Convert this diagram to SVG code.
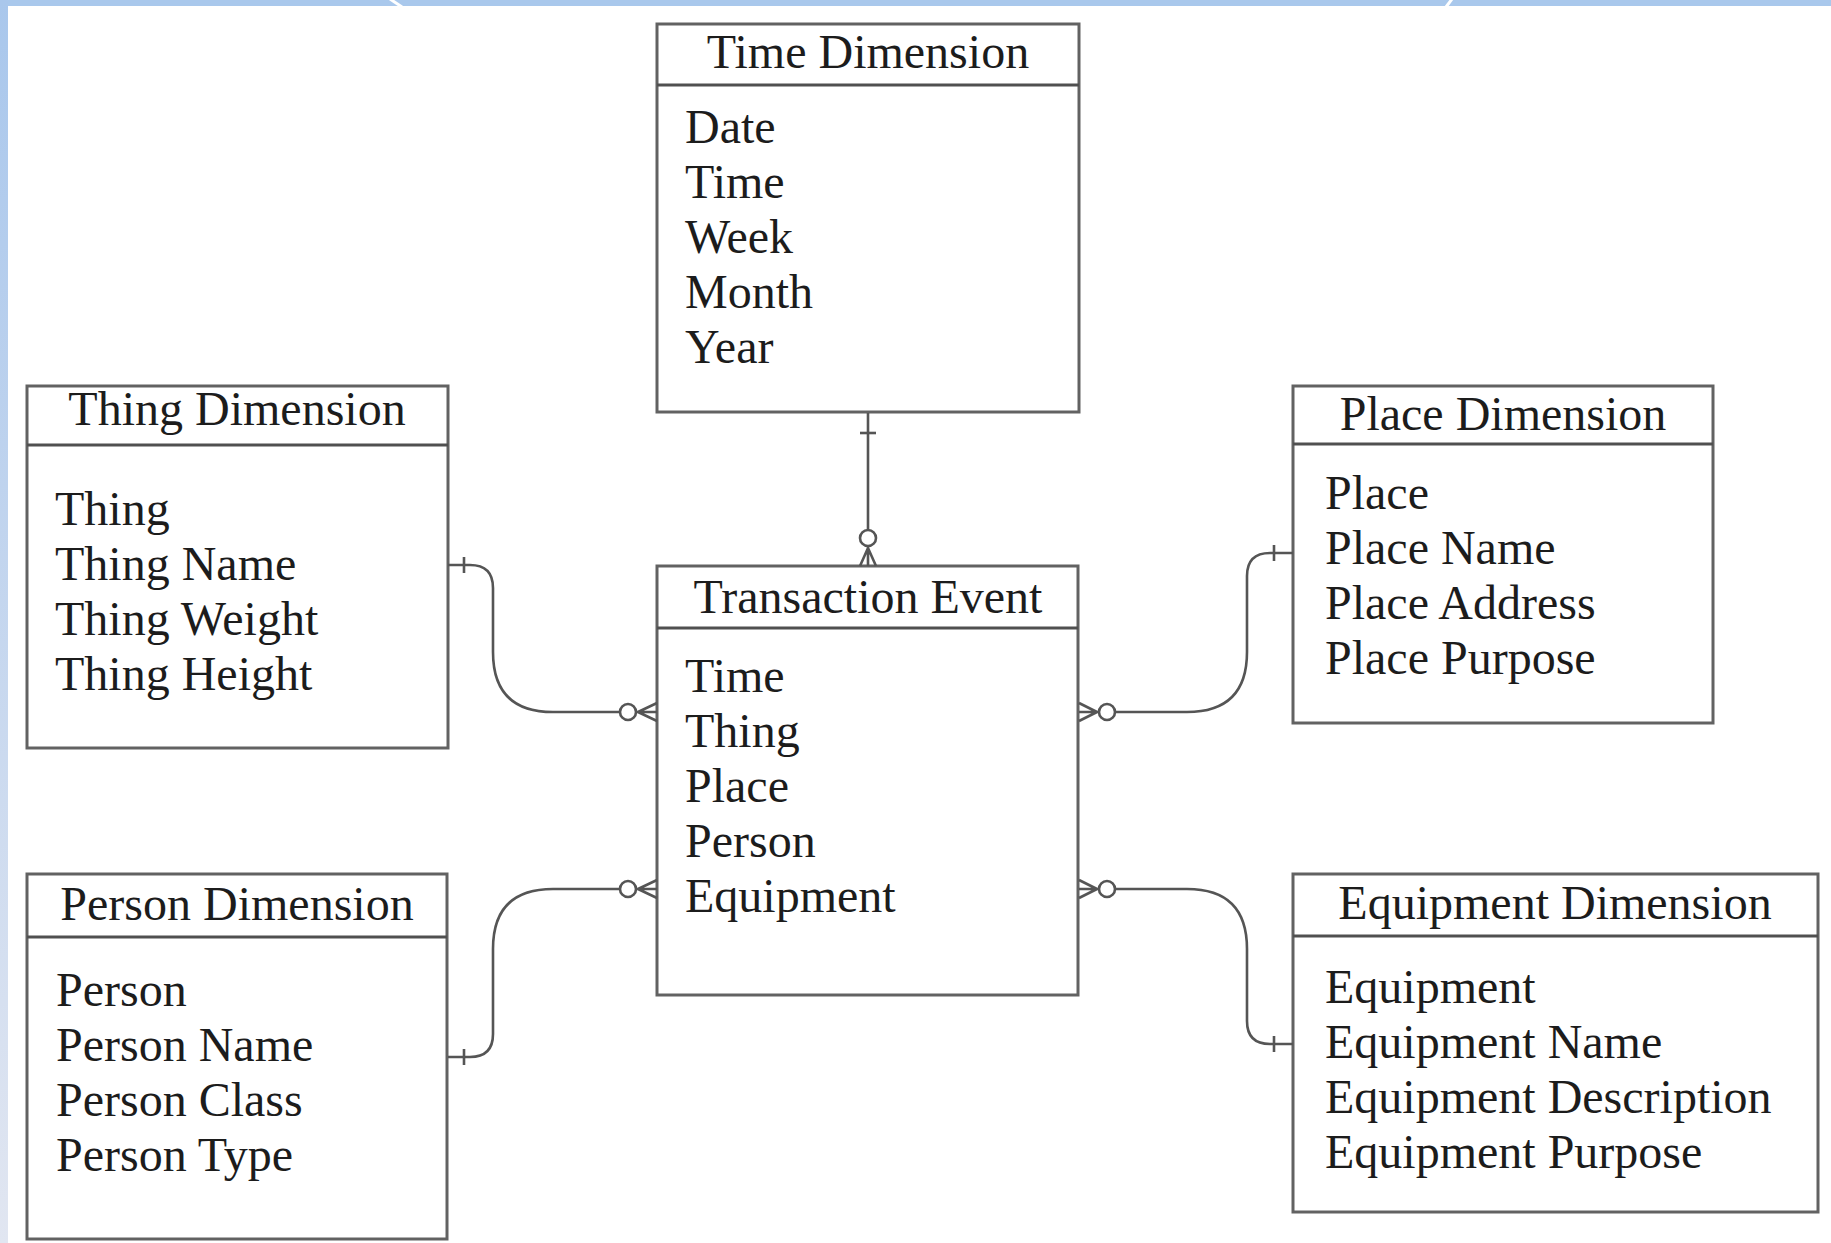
<svg xmlns="http://www.w3.org/2000/svg" width="1831" height="1243" viewBox="0 0 1831 1243">
  <style>
    .box { fill: #ffffff; stroke: #626262; stroke-width: 3; }
    .sep { stroke: #505050; stroke-width: 3; fill: none; }
    .title { font-family: "Liberation Serif", "Times New Roman", serif; font-size: 48px; fill: #1c1c1c; text-anchor: middle; }
    .attr { font-family: "Liberation Serif", "Times New Roman", serif; font-size: 48px; fill: #1c1c1c; }
    .link { fill: none; stroke: #555555; stroke-width: 2.6; }
    .ring { fill: #ffffff; stroke: #555555; stroke-width: 2.6; }
  </style>
  <defs>
    <linearGradient id="sideBand" x1="0" y1="0" x2="0" y2="1">
      <stop offset="0" stop-color="#a9c7ec"/>
      <stop offset="1" stop-color="#e1e6f1"/>
    </linearGradient>
  </defs>

  <!-- page frame -->
  <rect x="0" y="0" width="1831" height="1243" fill="#ffffff"/>
  <rect x="0" y="0" width="1831" height="6" fill="#a9c8ec"/>
  <rect x="0" y="0" width="8" height="1243" fill="url(#sideBand)"/>
  <line x1="390" y1="-1" x2="402" y2="7" stroke="#ffffff" stroke-width="3"/>
  <line x1="1452" y1="-1" x2="1446" y2="7" stroke="#ffffff" stroke-width="3"/>

  <!-- Time Dimension -->
  <g id="time-dimension">
    <rect class="box" x="657" y="24" width="422" height="388"/>
    <line class="sep" x1="657" y1="85" x2="1079" y2="85"/>
    <text class="title" x="868" y="68">Time Dimension</text>
    <text class="attr" x="685" y="143">Date</text>
    <text class="attr" x="685" y="198">Time</text>
    <text class="attr" x="685" y="253">Week</text>
    <text class="attr" x="685" y="308">Month</text>
    <text class="attr" x="685" y="363">Year</text>
  </g>

  <!-- Thing Dimension -->
  <g id="thing-dimension">
    <rect class="box" x="27" y="386" width="421" height="362"/>
    <line class="sep" x1="27" y1="445" x2="448" y2="445"/>
    <text class="title" x="237" y="425">Thing Dimension</text>
    <text class="attr" x="55" y="525">Thing</text>
    <text class="attr" x="55" y="580">Thing Name</text>
    <text class="attr" x="55" y="635">Thing Weight</text>
    <text class="attr" x="55" y="690">Thing Height</text>
  </g>

  <!-- Transaction Event (fact) -->
  <g id="transaction-event">
    <rect class="box" x="657" y="566" width="421" height="429"/>
    <line class="sep" x1="657" y1="628" x2="1078" y2="628"/>
    <text class="title" x="868" y="613">Transaction Event</text>
    <text class="attr" x="685" y="692">Time</text>
    <text class="attr" x="685" y="747">Thing</text>
    <text class="attr" x="685" y="802">Place</text>
    <text class="attr" x="685" y="857">Person</text>
    <text class="attr" x="685" y="912">Equipment</text>
  </g>

  <!-- Place Dimension -->
  <g id="place-dimension">
    <rect class="box" x="1293" y="386" width="420" height="337"/>
    <line class="sep" x1="1293" y1="444" x2="1713" y2="444"/>
    <text class="title" x="1503" y="430">Place Dimension</text>
    <text class="attr" x="1325" y="509">Place</text>
    <text class="attr" x="1325" y="564">Place Name</text>
    <text class="attr" x="1325" y="619">Place Address</text>
    <text class="attr" x="1325" y="674">Place Purpose</text>
  </g>

  <!-- Person Dimension -->
  <g id="person-dimension">
    <rect class="box" x="27" y="874" width="420" height="365"/>
    <line class="sep" x1="27" y1="937" x2="447" y2="937"/>
    <text class="title" x="237" y="920">Person Dimension</text>
    <text class="attr" x="56" y="1006">Person</text>
    <text class="attr" x="56" y="1061">Person Name</text>
    <text class="attr" x="56" y="1116">Person Class</text>
    <text class="attr" x="56" y="1171">Person Type</text>
  </g>

  <!-- Equipment Dimension -->
  <g id="equipment-dimension">
    <rect class="box" x="1293" y="874" width="525" height="338"/>
    <line class="sep" x1="1293" y1="936" x2="1818" y2="936"/>
    <text class="title" x="1555" y="919">Equipment Dimension</text>
    <text class="attr" x="1325" y="1003">Equipment</text>
    <text class="attr" x="1325" y="1058">Equipment Name</text>
    <text class="attr" x="1325" y="1113">Equipment Description</text>
    <text class="attr" x="1325" y="1168">Equipment Purpose</text>
  </g>

  <!-- relationships: one (bar) on the dimension side, zero-or-many on the fact side -->
  <g id="connectors">
    <!-- time -->
    <path class="link" d="M868,413 V529"/>
    <line class="link" x1="860" y1="433" x2="876" y2="433"/>
    <circle class="ring" cx="868" cy="538" r="8"/>
    <path class="link" d="M868,546 V566 M868,548 L860,566 M868,548 L876,566"/>

    <!-- thing -->
    <path class="link" d="M448,565 H470 Q493,565 493,588 V652 Q493,712 553,712 H620"/>
    <line class="link" x1="464" y1="557" x2="464" y2="573"/>
    <circle class="ring" cx="628" cy="712" r="8"/>
    <path class="link" d="M636,712 H657 M638,712 L657,703 M638,712 L657,721"/>

    <!-- place -->
    <path class="link" d="M1115,712 H1187 Q1247,712 1247,652 V576 Q1247,553 1270,553 H1293"/>
    <line class="link" x1="1274" y1="545" x2="1274" y2="561"/>
    <circle class="ring" cx="1107" cy="712" r="8"/>
    <path class="link" d="M1079,712 H1099 M1097,712 L1079,703 M1097,712 L1079,721"/>

    <!-- person -->
    <path class="link" d="M620,889 H553 Q493,889 493,949 V1034 Q493,1057 470,1057 H448"/>
    <line class="link" x1="464" y1="1049" x2="464" y2="1065"/>
    <circle class="ring" cx="628" cy="889" r="8"/>
    <path class="link" d="M636,889 H657 M638,889 L657,880 M638,889 L657,898"/>

    <!-- equipment -->
    <path class="link" d="M1115,889 H1187 Q1247,889 1247,949 V1021 Q1247,1044 1270,1044 H1293"/>
    <line class="link" x1="1274" y1="1036" x2="1274" y2="1052"/>
    <circle class="ring" cx="1107" cy="889" r="8"/>
    <path class="link" d="M1079,889 H1099 M1097,889 L1079,880 M1097,889 L1079,898"/>
  </g>
</svg>
